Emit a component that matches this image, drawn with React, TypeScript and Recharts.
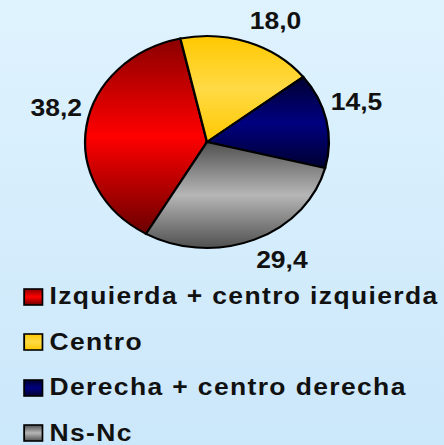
import React from 'react';
import { PieChart, Pie, Cell, Legend } from 'recharts';

const categories = ['Izquierda + centro izquierda', 'Centro', 'Derecha + centro derecha', 'Ns-Nc'];
const values = [38.2, 18.0, 14.5, 29.4];
const gradientIds = ['gradIzq', 'gradCentro', 'gradDer', 'gradNs'];
// top, middle, bottom of each slice's vertical shading
const gradientStops = [
    ['#8a0000', '#ff0000', '#6a0000'],
    ['#ffc800', '#ffda45', '#ffc800'],
    ['#000030', '#000080', '#000030'],
    ['#505050', '#b6b6b6', '#505050'],
];

const data = categories.map((name, i) => ({ name, value: values[i] }));

const FONT = '"Liberation Sans", Arial, sans-serif';
const STRETCH = 1.15;
const RADIAN = Math.PI / 180;

// label sits just outside the rim, anchored away from the pie
const renderLabel = (props: any) => {
    const { cx, cy, midAngle, outerRadius, value } = props;
    const r = outerRadius + 4;
    const cos = Math.cos(-midAngle * RADIAN);
    const sin = Math.sin(-midAngle * RADIAN);
    const x = cx + r * cos;
    const y = cy + r * sin + (sin > 0 ? 17 : -17);
    return (
        <text
            x={x}
            y={y}
            textAnchor={cos >= 0 ? 'start' : 'end'}
            dominantBaseline="central"
            fill="#111"
            style={{ fontFamily: FONT, fontWeight: 'bold', fontSize: 23 }}
        >
            {Number(value).toFixed(1).replace('.', ',')}
        </text>
    );
};

const renderLegend = (props: any) => {
    const payload = [...(props.payload || [])].sort(
        (a: any, b: any) => categories.indexOf(a.value) - categories.indexOf(b.value)
    );
    return (
        <div style={{ fontFamily: FONT, fontWeight: 'bold', fontSize: 23, letterSpacing: 1.2, color: '#111' }}>
            {payload.map((entry: any) => {
                const i = categories.indexOf(entry.value);
                return (
                    <div key={entry.value} style={{ height: 45.5, display: 'flex', alignItems: 'center' }}>
                        <svg width={18} height={18} style={{ marginRight: 5 }}>
                            <rect x={1} y={1} width={16} height={16} fill={`url(#${gradientIds[i]})`} stroke="#000" strokeWidth={1.6} />
                        </svg>
                        <span>{entry.value}</span>
                    </div>
                );
            })}
        </div>
    );
};

const App: React.FC = () => {
    return (
        <div
            style={{
                position: 'absolute',
                top: 0,
                left: 0,
                width: 444,
                height: 445,
                overflow: 'hidden',
                background: 'linear-gradient(#dff3fe, #cbe7fa)',
            }}
        >
            <div style={{ transform: `scaleX(${STRETCH})`, transformOrigin: '0 0', width: 386, height: 445 }}>
                <PieChart width={386} height={445} margin={{ top: 0, right: 0, bottom: 0, left: 0 }}>
                    <defs>
                        {gradientIds.map((id, i) => (
                            <linearGradient key={id} id={id} x1="0" y1="0" x2="0" y2="1">
                                <stop offset="0%" stopColor={gradientStops[i][0]} />
                                <stop offset="50%" stopColor={gradientStops[i][1]} />
                                <stop offset="100%" stopColor={gradientStops[i][2]} />
                            </linearGradient>
                        ))}
                    </defs>
                    <Pie
                        data={data}
                        dataKey="value"
                        nameKey="name"
                        cx={180}
                        cy={142}
                        outerRadius={106}
                        startAngle={240}
                        endAngle={-120}
                        stroke="#000"
                        strokeWidth={2}
                        label={renderLabel}
                        labelLine={false}
                        isAnimationActive={false}
                    >
                        {data.map((d, i) => (
                            <Cell key={d.name} fill={`url(#${gradientIds[i]})`} />
                        ))}
                    </Pie>
                    <Legend
                        layout="vertical"
                        verticalAlign="bottom"
                        align="center"
                        itemSorter={null}
                        content={renderLegend}
                        wrapperStyle={{ left: 20, top: 274, width: 'auto' }}
                    />
                </PieChart>
            </div>
        </div>
    );
};

export default App;
